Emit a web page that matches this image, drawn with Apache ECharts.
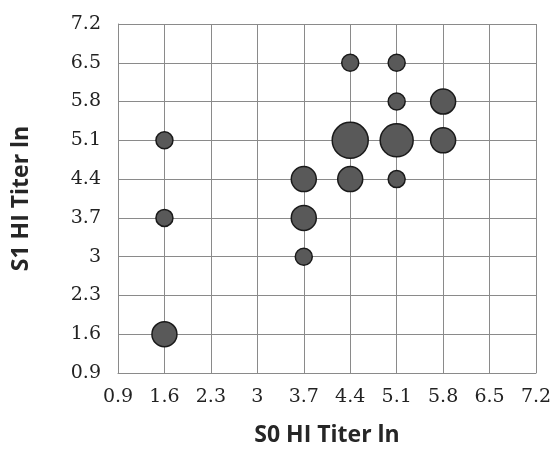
<!DOCTYPE html>
<html>
<head>
<meta charset="utf-8">
<script src="https://cdn.jsdelivr.net/npm/echarts@6/dist/echarts.min.js"></script>
<style>
  html, body { margin: 0; padding: 0; background: #fff; }
  #chart { width: 555px; height: 467px; }
</style>
</head>
<body>
<div id="chart"></div>
<script>
// 轴刻度
const tickStart = 0.9
const tickStep = 0.7
// 气泡数据 x / y / 大小
const s0Titer = [1.6, 1.6, 1.6, 3.7, 3.7, 3.7, 4.4, 4.4, 4.4, 5.1, 5.1, 5.1, 5.1, 5.8, 5.8]
const s1Titer = [5.1, 3.7, 1.6, 4.4, 3.7, 3.0, 6.5, 5.1, 4.4, 6.5, 5.8, 5.1, 4.4, 5.8, 5.1]
const bubbleSize = [17, 17, 25, 25, 25, 17, 17, 36, 25, 17, 17, 33, 17, 25, 25]

// 坐标轴从 0 开始, 标签再加回 0.9
const fmt = v => String(+(v + tickStart).toFixed(1))

const myChart = echarts.init(document.querySelector('#chart'))

const axisCommon = {
  type: 'value',
  min: 0,
  max: +(tickStep * 9).toFixed(1),
  interval: tickStep,
  axisLine: { show: true, lineStyle: { color: '#8a8a8a', width: 1 } },
  axisTick: { show: false },
  splitLine: { show: true, lineStyle: { color: '#8a8a8a', width: 1 } },
  axisLabel: {
    formatter: fmt,
    fontFamily: 'DejaVu Serif',
    fontSize: 19,
    color: '#222'
  },
  nameLocation: 'middle',
  nameTextStyle: {
    fontFamily: 'Open Sans',
    fontWeight: 'bold',
    fontSize: 23,
    color: '#262626'
  }
}

const option = {
  animation: false,
  grid: { left: 118, right: 19, top: 24, bottom: 94 },
  xAxis: Object.assign({}, axisCommon, {
    name: 'S0 HI Titer ln',
    nameGap: 51,
    axisLabel: Object.assign({}, axisCommon.axisLabel, { margin: 15 })
  }),
  yAxis: Object.assign({}, axisCommon, {
    name: 'S1 HI Titer ln',
    nameGap: 85,
    axisLabel: Object.assign({}, axisCommon.axisLabel, { margin: 17 })
  }),
  series: [
    {
      type: 'scatter',
      data: s0Titer.map((x, i) => [x - tickStart, s1Titer[i] - tickStart, bubbleSize[i]]),
      symbolSize: d => d[2],
      itemStyle: {
        color: '#595959',
        borderColor: '#1a1a1a',
        borderWidth: 1.5,
        opacity: 1
      }
    }
  ]
}
myChart.setOption(option)
</script>
</body>
</html>
